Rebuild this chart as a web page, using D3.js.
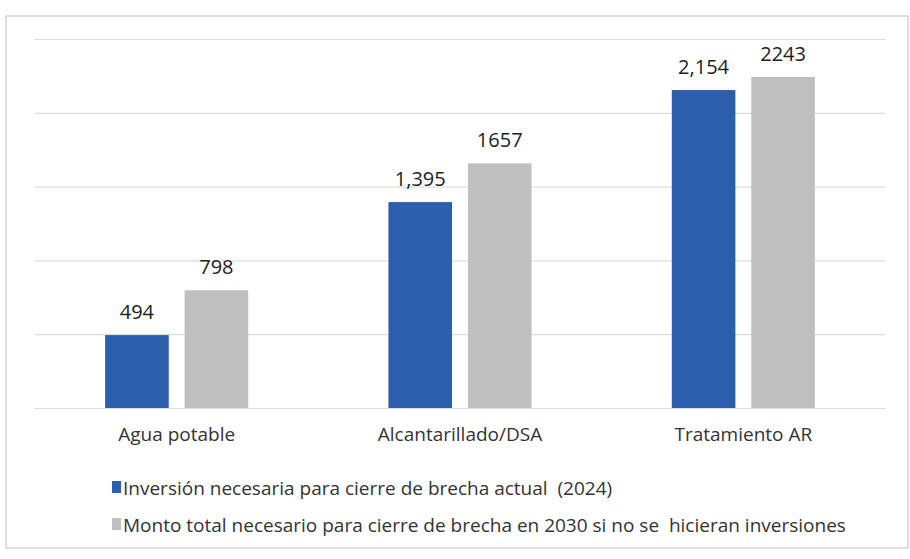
<!DOCTYPE html>
<html>
<head>
<meta charset="utf-8">
<script src="https://cdn.jsdelivr.net/npm/d3@7"></script>
<style>
  body { margin: 0; background: #fff; }
  svg { display: block; font-family: "Liberation Sans Narrow", "Open Sans", sans-serif; }
</style>
</head>
<body>
<svg width="910" height="559"></svg>
<script>
var categories = ["Agua potable", "Alcantarillado/DSA", "Tratamiento AR"];
var seriesNames = [
    "Inversión necesaria para cierre de brecha actual  (2024)",
    "Monto total necesario para cierre de brecha en 2030 si no se  hicieran inversiones"
];
var actual2024 = [494, 1395, 2154];
var total2030 = [798, 1657, 2243];
var actualLabels = ["494", "1,395", "2,154"];
var totalLabels = ["798", "1657", "2243"];
var yTicks = [0, 500, 1000, 1500, 2000, 2500];
var colors = ["#2b5ead", "#bfbfbf"];

var svg = d3.select('svg');
var margin = {top: 39, right: 25, bottom: 151, left: 35};
var width = 910 - margin.left - margin.right;
var height = 559 - margin.top - margin.bottom;

// outer frame
svg.append('rect')
    .attr('x', 6).attr('y', 16)
    .attr('width', 902).attr('height', 532)
    .attr('fill', 'none')
    .attr('stroke', '#c8c8c8')
    .attr('stroke-width', 1.2);

var g = svg.append('g')
    .attr('transform', 'translate(' + margin.left + ',' + margin.top + ')');

var x0 = d3.scaleBand()
    .domain(categories)
    .range([0, width])
    .paddingInner(0.495)
    .paddingOuter(0.2475);

var x1 = d3.scaleBand()
    .domain([0, 1])
    .range([0, x0.bandwidth()])
    .paddingInner(0.2);

var y = d3.scaleLinear()
    .domain([0, 2500])
    .range([height, 0]);

// gridlines
g.append('g')
    .call(d3.axisLeft(y).tickValues(yTicks).tickSize(-width).tickFormat(''))
    .call(function(a) {
        a.select('.domain').remove();
        a.selectAll('line').attr('stroke', '#dcdcdc').attr('stroke-width', 1.2);
    });

var data = categories.map(function(c, i) {
    return {
        cat: c,
        vals: [
            {s: 0, v: actual2024[i], label: actualLabels[i]},
            {s: 1, v: total2030[i], label: totalLabels[i]}
        ]
    };
});

var groups = g.selectAll('.grp')
    .data(data)
    .enter()
    .append('g')
    .attr('class', 'grp')
    .attr('transform', function(d) { return 'translate(' + x0(d.cat) + ',0)'; });

groups.selectAll('rect')
    .data(function(d) { return d.vals; })
    .enter()
    .append('rect')
    .attr('x', function(d) { return x1(d.s); })
    .attr('y', function(d) { return y(d.v); })
    .attr('width', x1.bandwidth())
    .attr('height', function(d) { return height - y(d.v); })
    .attr('fill', function(d) { return colors[d.s]; });

groups.selectAll('text')
    .data(function(d) { return d.vals; })
    .enter()
    .append('text')
    .attr('x', function(d) { return x1(d.s) + x1.bandwidth() / 2; })
    .attr('y', function(d) { return y(d.v) - 16; })
    .attr('text-anchor', 'middle')
    .attr('font-size', 20)
    .attr('fill', '#222')
    .text(function(d) { return d.label; });

// category axis
var xAxis = g.append('g')
    .attr('transform', 'translate(0,' + height + ')')
    .call(d3.axisBottom(x0).tickSize(0).tickPadding(20));
xAxis.select('.domain').remove();
xAxis.selectAll('text')
    .attr('font-size', 19)
    .attr('font-family', '"Liberation Sans Narrow", "Open Sans", sans-serif')
    .attr('fill', '#333');

// legend
var legend = svg.append('g')
    .selectAll('g')
    .data(seriesNames)
    .enter()
    .append('g')
    .attr('transform', function(d, i) { return 'translate(112,' + (488 + i * 37) + ')'; });

legend.append('rect')
    .attr('x', 0).attr('y', -7)
    .attr('width', 9).attr('height', 12)
    .attr('fill', function(d, i) { return colors[i]; });

legend.append('text')
    .attr('x', 11)
    .attr('y', 0)
    .attr('dy', '0.35em')
    .attr('font-size', 19)
    .attr('fill', '#333')
    .style('white-space', 'pre')
    .text(function(d) { return d; });
</script>
</body>
</html>
